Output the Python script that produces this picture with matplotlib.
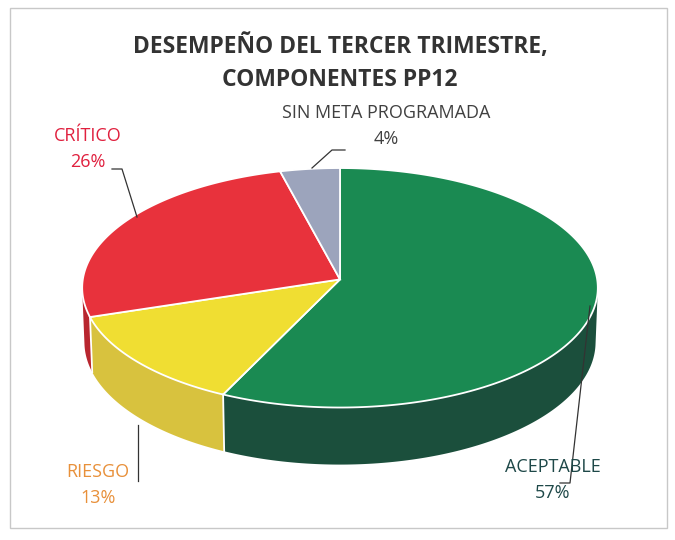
import numpy as np
import matplotlib.pyplot as plt
from matplotlib.patches import Polygon, Rectangle

# data
categories = ['ACEPTABLE', 'RIESGO', 'CRÍTICO', 'SIN META PROGRAMADA']
values = [57, 13, 26, 4]
pct_labels = ['57%', '13%', '26%', '4%']

top_colors = ['#1a8a52', '#f0de32', '#e8323c', '#9ca4bc']
side_colors = ['#1b4f3c', '#d8c23e', '#b8262f', '#7a829a']
label_colors = ['#1e4848', '#e8903a', '#e0203e', '#404040']

# simple perspective projection of a flat cylinder (pixel space)
x0, y0 = 340, 279.4
phi = np.radians(27.6)
c, s = np.cos(phi), np.sin(phi)
D = 12.66
f = 3256.0
h = 0.24


def proj(theta_deg, z=0.0):
    t = np.radians(theta_deg)
    X, Y = np.cos(t), np.sin(t)
    depth = D + Y * c - z * s
    up = Y * s + z * c
    return x0 + f * X / depth, y0 - f * up / depth


def front(theta_deg):
    # wall faces the camera
    return np.sin(np.radians(theta_deg)) < -1.0 / (D * c)


fig = plt.figure(figsize=(6.75, 5.4), dpi=100)
ax = fig.add_axes([0, 0, 1, 1])
ax.set_xlim(0, 675)
ax.set_ylim(540, 0)
ax.axis('off')

ax.add_patch(Rectangle((10, 8), 657, 520, fill=False, ec='#c8c8c8', lw=1))

# slice angles, clockwise from 12 o'clock
fr = np.array(values) / sum(values)
starts = 90 - 360 * np.concatenate([[0], np.cumsum(fr)[:-1]])
ends = starts - 360 * fr

# side walls
for st, en, col in zip(starts, ends, side_colors):
    th = np.linspace(st, en, 400)
    th = th[front(th)]
    if len(th) < 2:
        continue
    xs, ys = proj(th)
    xb, yb = proj(th[::-1], -h)
    pts = np.column_stack([np.concatenate([xs, xb]), np.concatenate([ys, yb])])
    ax.add_patch(Polygon(pts, closed=True, fc=col, ec='none'))
for a in ends:
    if front(a):
        xa, ya = proj(a)
        xb, yb = proj(a, -h)
        ax.plot([xa, xb], [ya, yb], color='white', lw=1.3)

# top wedges
for st, en, col in zip(starts, ends, top_colors):
    th = np.linspace(st, en, 200)
    xs, ys = proj(th)
    pts = np.column_stack([np.concatenate([[x0], xs]), np.concatenate([[y0], ys])])
    ax.add_patch(Polygon(pts, closed=True, fc=col, ec='white', lw=1.3))

# title
font = ['Open Sans', 'DejaVu Sans']
ax.text(340, 47, 'DESEMPEÑO DEL TERCER TRIMESTRE,', ha='center', va='center',
        fontsize=16.5, fontweight='bold', color='#333333', family=font)
ax.text(340, 80, 'COMPONENTES PP12', ha='center', va='center',
        fontsize=16.5, fontweight='bold', color='#333333', family=font)

# labels and leader lines
label_pos = [(553, 467), (98, 472), (88, 136), (386, 113)]
leaders = [
    [(560, 483), (570, 483), (590, 306)],
    [(138, 481), (138, 425)],
    [(112, 169), (122, 169), (137, 217)],
    [(345, 150), (332, 150), (312, 168)],
]
for i, cat in enumerate(categories):
    x, y = label_pos[i]
    ax.text(x, y, cat, ha='center', va='center', fontsize=13,
            color=label_colors[i], family=font)
    ax.text(x, y + 26, pct_labels[i], ha='center', va='center', fontsize=13,
            color=label_colors[i], family=font)
    lx, ly = zip(*leaders[i])
    ax.plot(lx, ly, color='#333333', lw=0.9)

fig.savefig('out.png', dpi=100)
